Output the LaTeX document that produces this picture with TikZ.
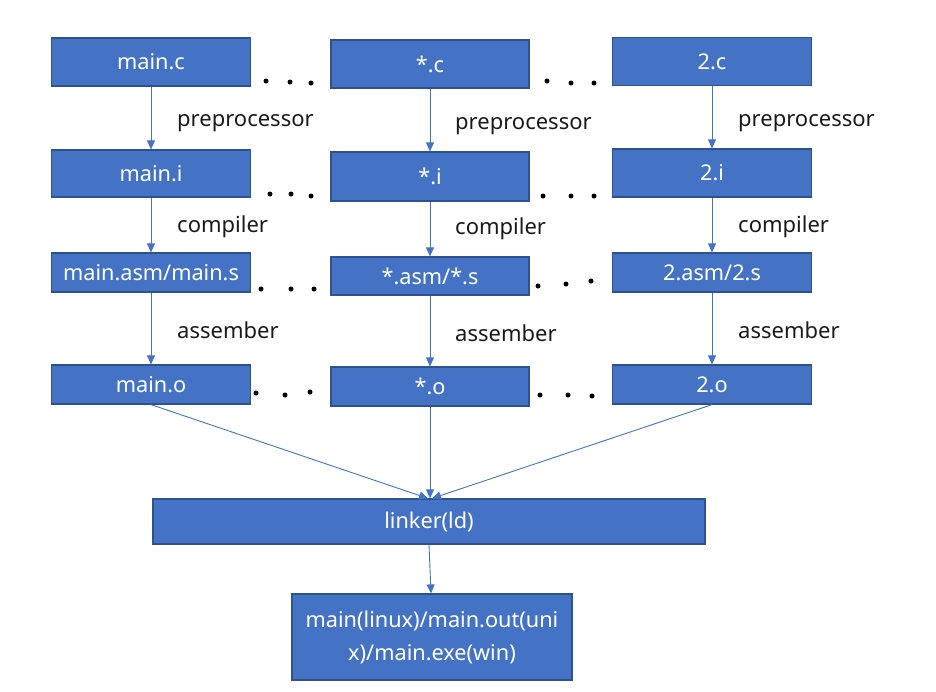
\documentclass[tikz,border=0pt]{standalone}
\usepackage{fontspec}
\setmainfont{Noto Sans}
\usetikzlibrary{arrows.meta}
\definecolor{boxfill}{HTML}{4472C4}
\definecolor{boxline}{HTML}{2F528F}
\definecolor{arrowc}{HTML}{4472C4}
\definecolor{labc}{HTML}{1A1A1A}
\tikzset{
  filebox/.style={draw=boxline, line width=1.2pt, fill=boxfill, text=white,
    inner sep=0pt, font=\fontsize{21.7}{26}\selectfont},
  flow/.style={draw=arrowc, line width=0.9pt, -{Triangle[length=9pt,width=8pt]}},
  steplabel/.style={anchor=base west, inner sep=0pt, text=labc, font=\fontsize{22}{26}\selectfont},
  dotmark/.style={fill=black, draw=none, circle, minimum size=5pt, inner sep=0pt}
}
\begin{document}
\begin{tikzpicture}[x=1pt,y=-1pt]
\useasboundingbox (0,0) rectangle (936,691);
% column 1
\node[filebox, minimum width=199pt, minimum height=48pt] (ac) at (151,62) {main.c};
\node[filebox, minimum width=199pt, minimum height=47pt] (ai) at (151,173.5) {main.i};
\node[filebox, minimum width=199pt, minimum height=39pt] (as) at (151,272.5) {main.asm/main.s};
\node[filebox, minimum width=199pt, minimum height=39pt] (ao) at (151,384.5) {main.o};
% column 2
\node[filebox, minimum width=198pt, minimum height=48pt] (bc) at (430,64) {*.c};
\node[filebox, minimum width=198pt, minimum height=49pt] (bi) at (430,176.5) {*.i};
\node[filebox, minimum width=198pt, minimum height=38pt] (bs) at (430,276) {*.asm/*.s};
\node[filebox, minimum width=198pt, minimum height=39pt] (bo) at (430,386.5) {*.o};
% column 3
\node[filebox, minimum width=199pt, minimum height=48pt] (cc) at (712,61.5) {2.c};
\node[filebox, minimum width=199pt, minimum height=48pt] (ci) at (712,173) {2.i};
\node[filebox, minimum width=199pt, minimum height=39pt] (cs) at (712,272.5) {2.asm/2.s};
\node[filebox, minimum width=199pt, minimum height=39pt] (co) at (712,384.5) {2.o};
% linker and output
\node[filebox, minimum width=552pt, minimum height=45pt] (ld) at (429,521.5) {linker(ld)};
\node[filebox, minimum width=280pt, minimum height=86pt, align=center,
  font=\fontsize{21.7}{33}\selectfont] (out) at (432,637) {main(linux)/main.out(uni\\x)/main.exe(win)};
% arrows
\draw[flow] (ac) -- (ai);
\draw[flow] (ai) -- (as);
\draw[flow] (as) -- (ao);
\draw[flow] (bc) -- (bi);
\draw[flow] (bi) -- (bs);
\draw[flow] (bs) -- (bo);
\draw[flow] (cc.south) -- (ci.north);
\draw[flow] (ci) -- (cs);
\draw[flow] (cs) -- (co);
\draw[flow] (ao.south) -- ([xshift=-1pt]ld.north);
\draw[flow] (bo.south) -- ([xshift=1pt]ld.north);
\draw[flow] (co.south) -- ([xshift=3pt]ld.north);
\draw[flow] (ld.south) -- ([xshift=-1pt]out.north);
% labels
\node[steplabel] (l1) at (177,126) {preprocessor};
\node[steplabel] (l2) at (455,129) {preprocessor};
\node[steplabel] (l3) at (738,126) {preprocessor};
\node[steplabel] (l4) at (177,232) {compiler};
\node[steplabel] (l5) at (455,234) {compiler};
\node[steplabel] (l6) at (738,232) {compiler};
\node[steplabel] (l7) at (177,338) {assember};
\node[steplabel] (l8) at (455,341) {assember};
\node[steplabel] (l9) at (738,338) {assember};
% dots
\foreach \px/\py [count=\i] in {266/81,290/82,311/83, 547/81,571/83,594/83,
  270/194,291/194,311/196, 543/196,571/196,594/196,
  261/289,291/289,314/289, 538/286,566/284,591/281,
  256/393,285/395,310/392, 540/395,568/395,592/396}
  \node[dotmark] (d\i) at (\px,\py) {};
\end{tikzpicture}
\end{document}
